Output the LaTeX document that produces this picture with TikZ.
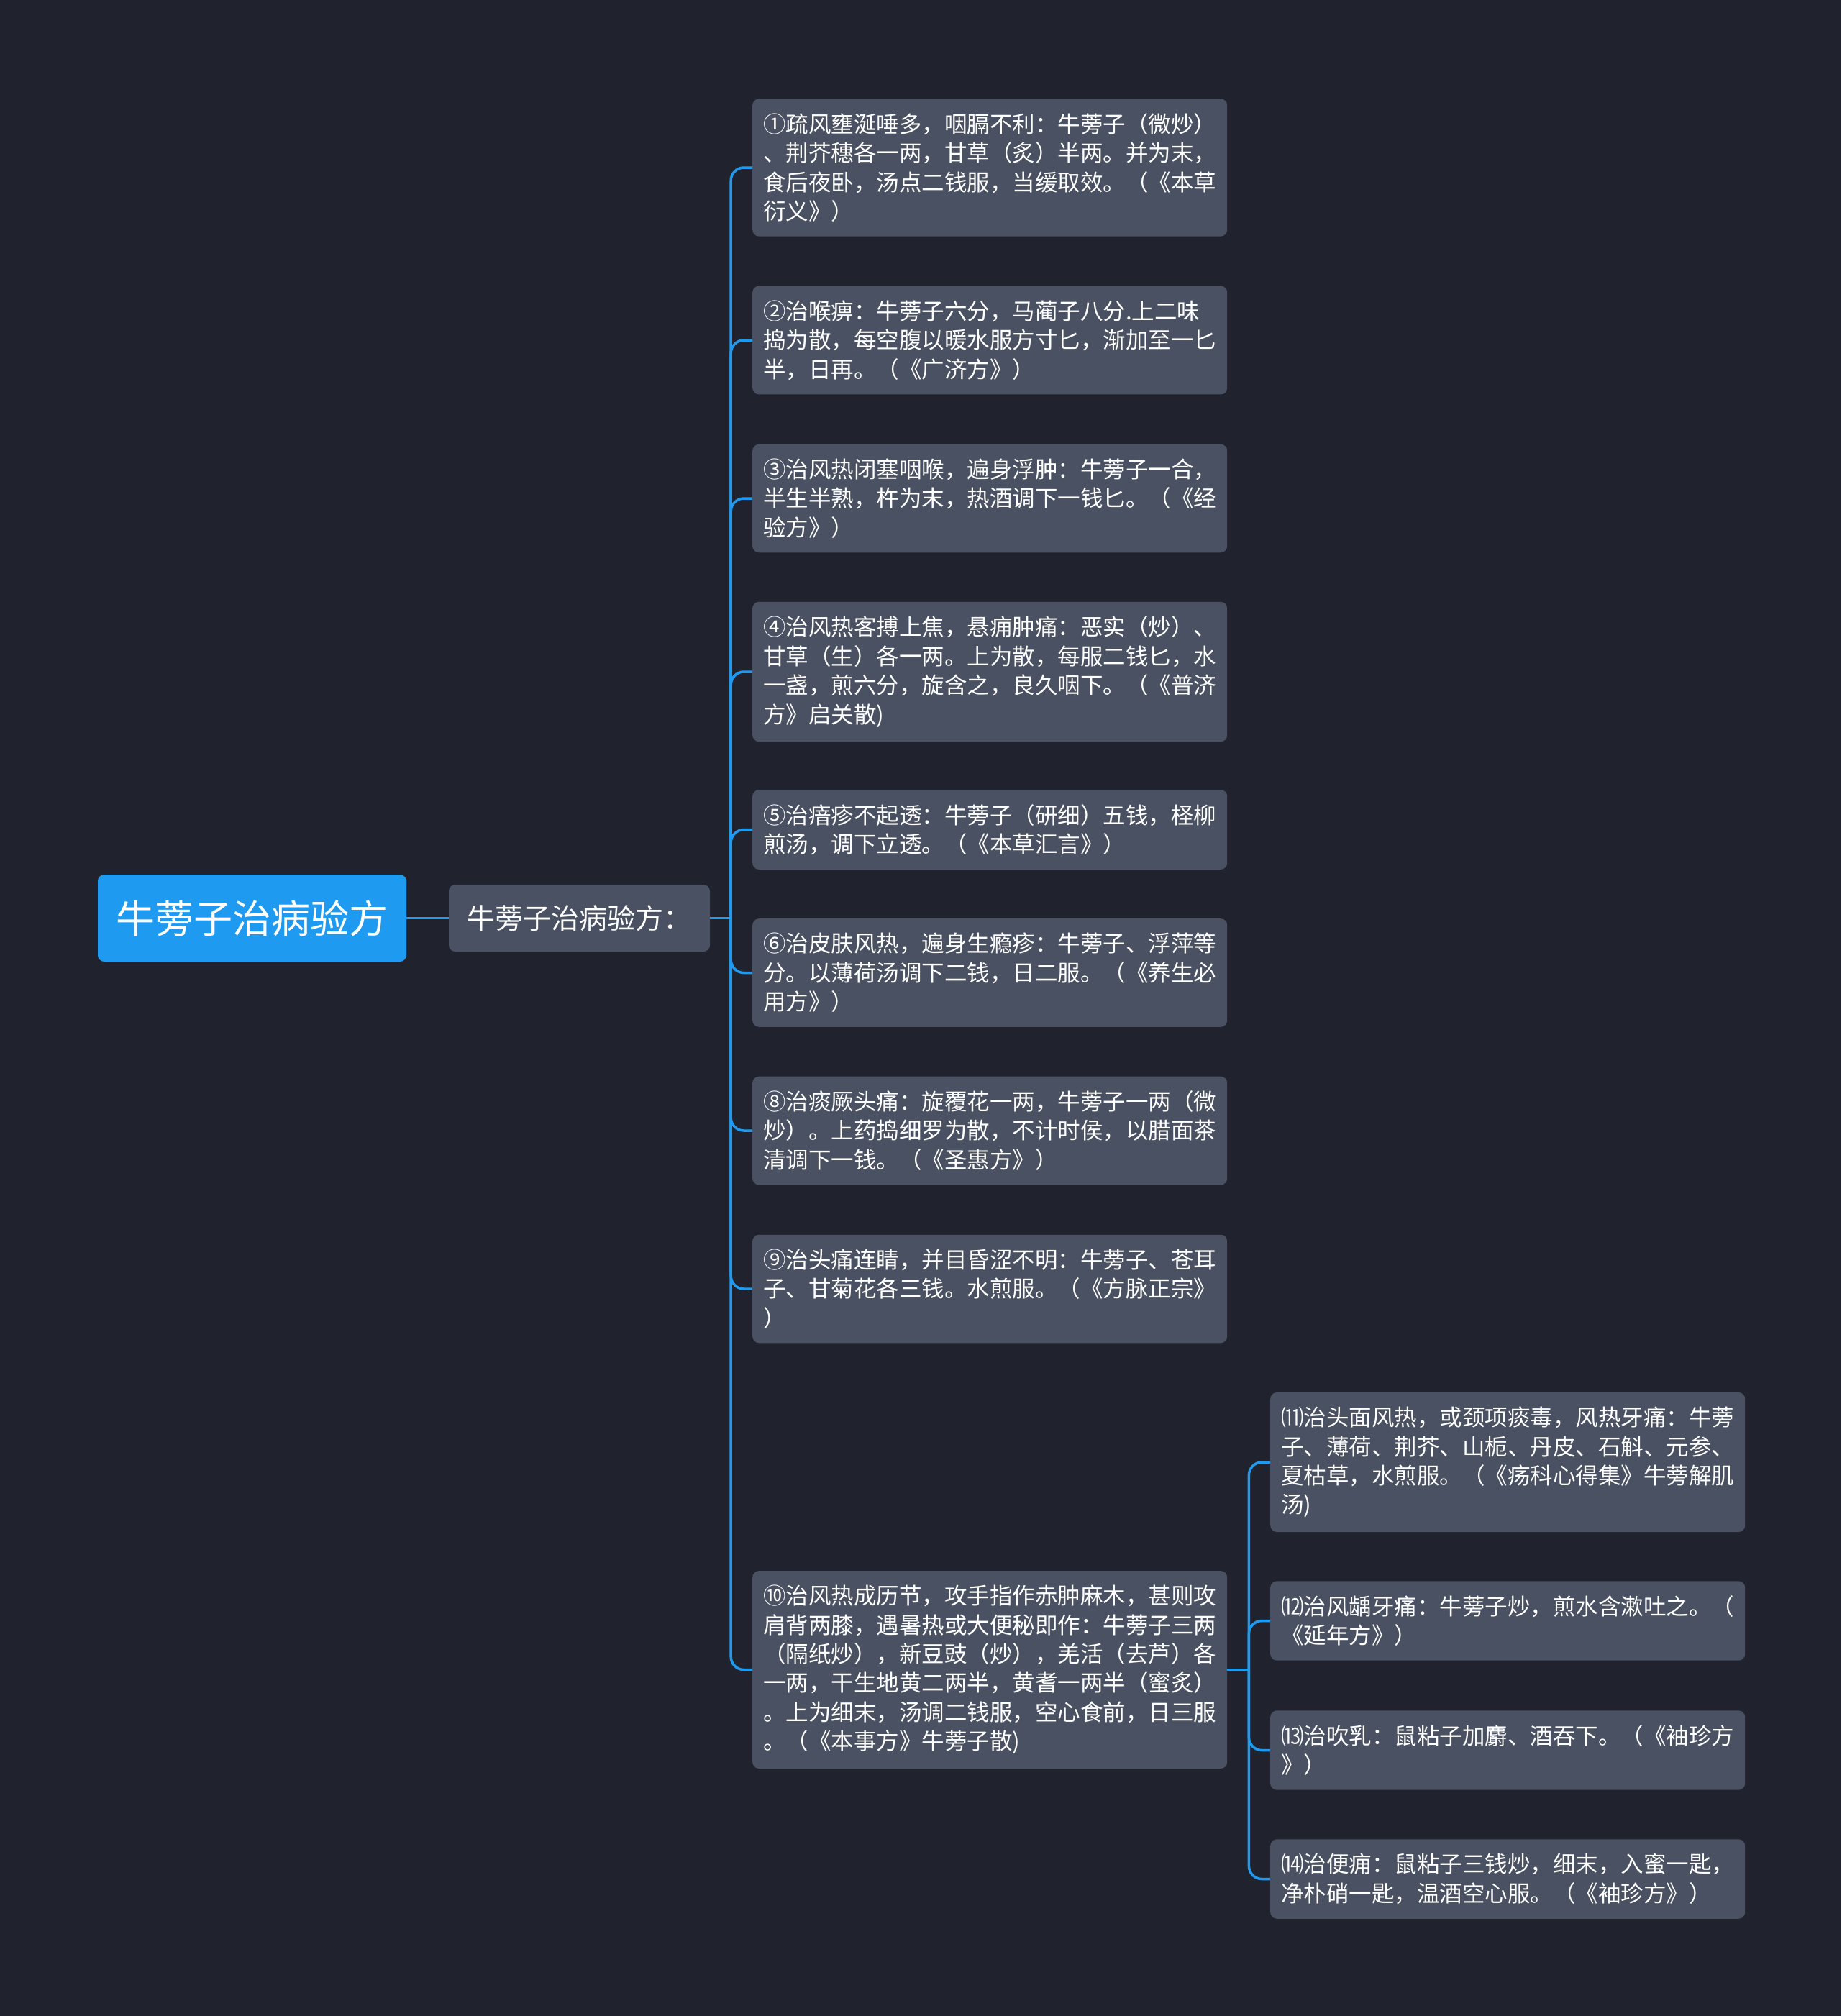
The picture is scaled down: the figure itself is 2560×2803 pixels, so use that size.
\documentclass[tikz,border=0pt]{standalone}
\usepackage{fontspec}
\setmainfont{Noto Sans CJK SC}
\usepackage{tikz}

\definecolor{canvas}{HTML}{20232E}
\definecolor{topicgray}{HTML}{4A5162}
\definecolor{linkblue}{HTML}{1E9BF0}

\begin{document}
\begin{tikzpicture}[
  x=1pt, y=-1pt,
  every node/.style={text=white, inner sep=0pt},
  root topic/.style={
    fill=linkblue, rounded corners=9pt, minimum width=429pt, minimum height=121pt,
    font=\fontsize{54pt}{60pt}\selectfont
  },
  main topic/.style={
    fill=topicgray, rounded corners=9pt, minimum width=363pt, minimum height=93pt,
    font=\fontsize{39pt}{45pt}\selectfont
  },
  sub topic/.style={
    fill=topicgray, rounded corners=9pt, anchor=west, text width=630pt, align=left,
    inner xsep=15pt, inner ysep=20pt, font=\fontsize{31.5pt}{40.4pt}\selectfont
  },
  link/.style={draw=linkblue, line width=3.5pt, rounded corners=18pt}
]
\useasboundingbox (0,0) rectangle (2560,2803);
\fill[canvas] (0,0) rectangle (2560,2803);

\node[root topic] (root) at (350.5,1276.5) {牛蒡子治病验方}; % root
\node[main topic] (recipes) at (805.5,1276.5) {牛蒡子治病验方：};

\node[sub topic] (r1) at (1046,233) {①疏风壅涎唾多，咽膈不利：牛蒡子（微炒）\\、荆芥穗各一两，甘草（炙）半两。并为末，\\食后夜卧，汤点二钱服，当缓取效。（《本草\\衍义》）};
\node[sub topic] (r2) at (1046,473) {②治喉痹：牛蒡子六分，马蔺子八分.上二味\\捣为散，每空腹以暖水服方寸匕，渐加至一匕\\半，日再。（《广济方》）};
\node[sub topic] (r3) at (1046,693) {③治风热闭塞咽喉，遍身浮肿：牛蒡子一合，\\半生半熟，杵为末，热酒调下一钱匕。（《经\\验方》）};
\node[sub topic] (r4) at (1046,934) {④治风热客搏上焦，悬痈肿痛：恶实（炒）、\\甘草（生）各一两。上为散，每服二钱匕，水\\一盏，煎六分，旋含之，良久咽下。（《普济\\方》启关散)};
\node[sub topic] (r5) at (1046,1153.5) {⑤治瘖疹不起透：牛蒡子（研细）五钱，柽柳\\煎汤，调下立透。（《本草汇言》）};
\node[sub topic] (r6) at (1046,1352.5) {⑥治皮肤风热，遍身生瘾疹：牛蒡子、浮萍等\\分。以薄荷汤调下二钱，日二服。（《养生必\\用方》）};
\node[sub topic] (r8) at (1046,1572) {⑧治痰厥头痛：旋覆花一两，牛蒡子一两（微\\炒）。上药捣细罗为散，不计时侯，以腊面茶\\清调下一钱。（《圣惠方》）};
\node[sub topic] (r9) at (1046,1792) {⑨治头痛连睛，并目昏涩不明：牛蒡子、苍耳\\子、甘菊花各三钱。水煎服。（《方脉正宗》\\）};
\node[sub topic] (r10) at (1046,2321.5) {⑩治风热成历节，攻手指作赤肿麻木，甚则攻\\肩背两膝，遇暑热或大便秘即作：牛蒡子三两\\（隔纸炒），新豆豉（炒），羌活（去芦）各\\一两，干生地黄二两半，黄耆一两半（蜜炙）\\。上为细末，汤调二钱服，空心食前，日三服\\。（《本事方》牛蒡子散)};

\node[sub topic] (r11) at (1766,2033) {⑾治头面风热，或颈项痰毒，风热牙痛：牛蒡\\子、薄荷、荆芥、山栀、丹皮、石斛、元参、\\夏枯草，水煎服。（《疡科心得集》牛蒡解肌\\汤)};
\node[sub topic] (r12) at (1766,2253.5) {⑿治风龋牙痛：牛蒡子炒，煎水含漱吐之。（\\《延年方》）};
\node[sub topic] (r13) at (1766,2433.5) {⒀治吹乳：鼠粘子加麝、酒吞下。（《袖珍方\\》）};
\node[sub topic] (r14) at (1766,2612.5) {⒁治便痈：鼠粘子三钱炒，细末，入蜜一匙，\\净朴硝一匙，温酒空心服。（《袖珍方》）};

% connectors
\coordinate (fork) at ([xshift=29pt]recipes.east);
\coordinate (subfork) at ([xshift=30pt]r10.east);
\draw[link] (root.east) -- (recipes.west);
\draw[link] (recipes.east) -- (fork);
\draw[link] (fork) |- (r1.west);
\draw[link] (fork) |- (r2.west);
\draw[link] (fork) |- (r3.west);
\draw[link] (fork) |- (r4.west);
\draw[link] (fork) |- (r5.west);
\draw[link] (fork) |- (r6.west);
\draw[link] (fork) |- (r8.west);
\draw[link] (fork) |- (r9.west);
\draw[link] (fork) |- (r10.west);
\draw[link] (r10.east) -- (subfork);
\draw[link] (subfork) |- (r11.west);
\draw[link] (subfork) |- (r12.west);
\draw[link] (subfork) |- (r13.west);
\draw[link] (subfork) |- (r14.west);
\end{tikzpicture}
\end{document}
